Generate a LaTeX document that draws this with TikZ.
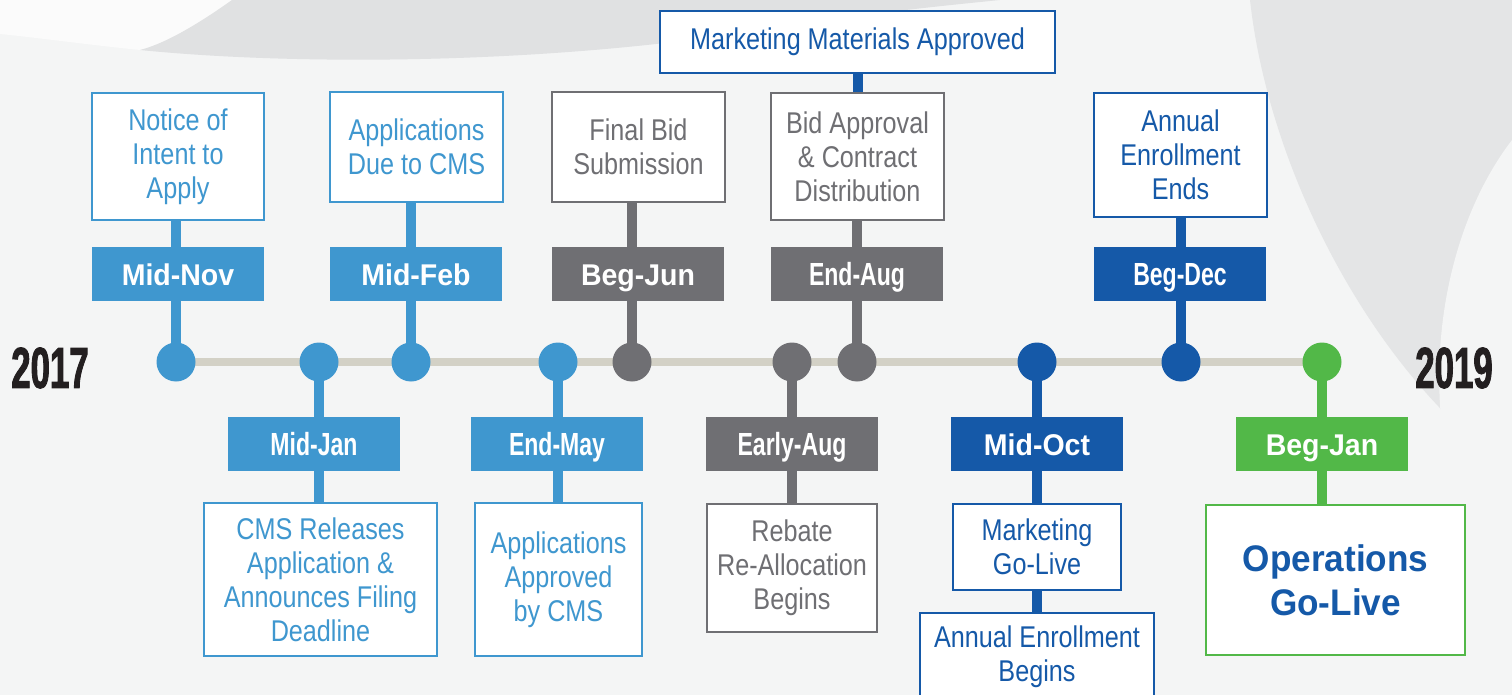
\documentclass[tikz,border=0pt]{standalone}
\usepackage{fontspec}
\setmainfont{Liberation Sans}[FakeStretch=0.84]
\newfontfamily\datewide{Liberation Sans}[FakeStretch=0.95]
\newfontfamily\datecn{Liberation Sans}[FakeStretch=0.72]
\newfontfamily\yearfont{Liberation Sans}[FakeStretch=0.6,FakeBold=1.5]
\usetikzlibrary{backgrounds}
\definecolor{lblue}{HTML}{3F97CF}
\definecolor{dblue}{HTML}{1559A8}
\definecolor{mgray}{HTML}{6F6F73}
\definecolor{lgreen}{HTML}{52B848}
\definecolor{rail}{HTML}{D3D1C6}
\definecolor{paper}{HTML}{F4F5F5}
\definecolor{swoosh}{HTML}{E0E1E2}
\definecolor{ink}{HTML}{231F20}
\newcommand\cn[1]{{\datecn\fontsize{32}{34}\selectfont #1}}

\begin{document}
\begin{tikzpicture}[x=1pt, y=-1pt,
  dot/.style={circle, inner sep=0pt, minimum size=39pt, fill=#1},
  datebox/.style={fill=#1, text=white, inner sep=0pt, minimum width=172pt, minimum height=54pt,
    text height=22pt, text depth=0pt, font=\datewide\fontsize{30}{34}\selectfont\bfseries},
  event/.style={draw=#1, text=#1, fill=white, line width=2.5pt, inner sep=0pt, align=center,
    font=\fontsize{30}{34}\selectfont},
  stem/.style={draw=#1, line width=10pt},
  year/.style={text=ink, font=\yearfont\fontsize{58}{58}\selectfont\bfseries}]

  \useasboundingbox (0,0) rectangle (1512,695);

  \node[year] (y17) at (50,368) {2017};
  \node[year] (y19) at (1454,368) {2019};

  % dots on the rail
  \node[dot=lblue]  (d1)  at (176,362)  {};
  \node[dot=lblue]  (d2)  at (319,362)  {};
  \node[dot=lblue]  (d3)  at (411,362)  {};
  \node[dot=lblue]  (d4)  at (558,362)  {};
  \node[dot=mgray]  (d5)  at (632,362)  {};
  \node[dot=mgray]  (d6)  at (792,362)  {};
  \node[dot=mgray]  (d7)  at (857,362)  {};
  \node[dot=dblue]  (d8)  at (1037,362) {};
  \node[dot=dblue]  (d9)  at (1181,362) {};
  \node[dot=lgreen] (d10) at (1322,362) {};

  % dates
  \node[datebox=lblue]  (m1)  at (178,274)  {Mid-Nov};
  \node[datebox=lblue]  (m2)  at (314,444)  {\cn{Mid-Jan}};
  \node[datebox=lblue]  (m3)  at (416,274)  {Mid-Feb};
  \node[datebox=lblue]  (m4)  at (557,444)  {\cn{End-May}};
  \node[datebox=mgray]  (m5)  at (638,274)  {Beg-Jun};
  \node[datebox=mgray]  (m6)  at (792,444)  {\cn{Early-Aug}};
  \node[datebox=mgray]  (m7)  at (857,274)  {\cn{End-Aug}};
  \node[datebox=dblue]  (m8)  at (1037,444) {Mid-Oct};
  \node[datebox=dblue]  (m9)  at (1180,274) {\cn{Beg-Dec}};
  \node[datebox=lgreen] (m10) at (1322,444) {Beg-Jan};

  % events
  \node[event=lblue, minimum width=172pt, minimum height=127pt] (e1) at (178,156.5)
    {Notice of\\Intent to\\Apply};
  \node[event=lblue, minimum width=233pt, minimum height=153pt] (e2) at (320.5,579.5)
    {CMS Releases\\Application \&\\Announces Filing\\Deadline};
  \node[event=lblue, minimum width=173pt, minimum height=110pt] (e3) at (416.5,147)
    {Applications\\Due to CMS};
  \node[event=lblue, minimum width=167pt, minimum height=153pt] (e4) at (558.5,579.5)
    {Applications\\Approved\\by CMS};
  \node[event=mgray, minimum width=173pt, minimum height=110pt] (e5) at (638.5,147)
    {Final Bid\\Submission};
  \node[event=mgray, minimum width=170pt, minimum height=128pt] (e6) at (792,568)
    {Rebate\\Re-Allocation\\Begins};
  \node[event=mgray, minimum width=173pt, minimum height=127pt] (e7) at (857.5,156.5)
    {Bid Approval\\\& Contract\\Distribution};
  \node[event=dblue, minimum width=395pt, minimum height=62pt] (e7b) at (857.5,42)
    {Marketing Materials Approved};
  \node[event=dblue, minimum width=168pt, minimum height=86pt] (e8) at (1037,547)
    {Marketing\\Go-Live};
  \node[event=dblue, minimum width=234pt, minimum height=88pt] (e8b) at (1037,657)
    {Annual Enrollment\\Begins};
  \node[event=dblue, minimum width=173pt, minimum height=124pt] (e9) at (1180.5,155)
    {Annual\\Enrollment\\Ends};
  \node[event=lgreen, text=dblue, minimum width=259pt, minimum height=150pt,
    font=\datewide\fontsize{37}{44}\selectfont\bfseries] (e10) at (1335.5,580)
    {Operations\\Go-Live};

  \begin{scope}[on background layer]
    \fill[paper] (0,0) rectangle (1512,695);
    \fill[white!60!paper] (0,0) -- (232,0) .. controls (190,30) and (160,45) .. (140,50)
      .. controls (90,45) and (40,38) .. (0,34) -- cycle;
    \fill[swoosh] (232,0) .. controls (190,30) and (160,45) .. (140,50)
      .. controls (300,66) and (550,64) .. (760,30) .. controls (850,15) and (950,5) .. (1000,0) -- cycle;
    \fill[swoosh!80!paper] (1250,0) .. controls (1270,180) and (1380,380) .. (1512,470) -- (1512,0) -- cycle;
    \fill[paper] (1512,140) .. controls (1420,260) and (1410,480) .. (1512,610) -- cycle;

    \draw[rail, line width=8pt] (d1.center) -- (d10.center);

    \draw[stem=lblue]  (d1.center)  -- (d1.center |- e1.center);
    \draw[stem=lblue]  (d2.center)  -- (d2.center |- e2.center);
    \draw[stem=lblue]  (d3.center)  -- (d3.center |- e3.center);
    \draw[stem=lblue]  (d4.center)  -- (d4.center |- e4.center);
    \draw[stem=mgray]  (d5.center)  -- (d5.center |- e5.center);
    \draw[stem=mgray]  (d6.center)  -- (d6.center |- e6.center);
    \draw[stem=mgray]  (d7.center)  -- (d7.center |- e7.center);
    \draw[stem=dblue]  (e7b.center) -- (e7b.center |- e7.center);
    \draw[stem=dblue]  (d8.center)  -- (d8.center |- e8.center);
    \draw[stem=dblue]  (e8.center)  -- (e8b.center);
    \draw[stem=dblue]  (d9.center)  -- (d9.center |- e9.center);
    \draw[stem=lgreen] (d10.center) -- (d10.center |- e10.center);
  \end{scope}

\end{tikzpicture}
\end{document}
